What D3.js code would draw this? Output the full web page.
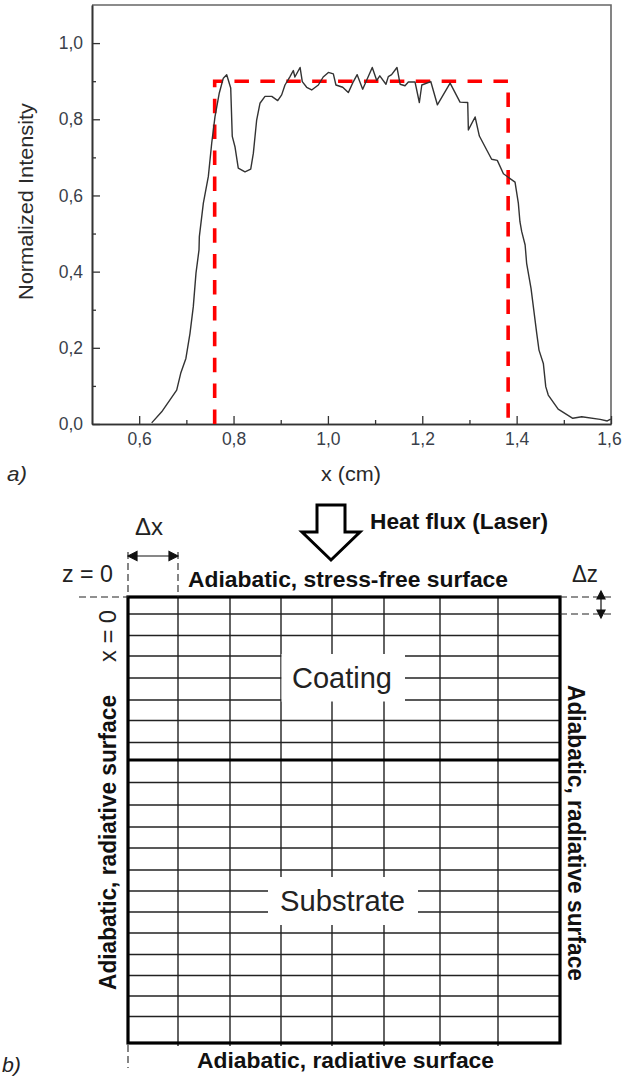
<!DOCTYPE html>
<html>
<head>
<meta charset="utf-8">
<script src="https://d3js.org/d3.v7.min.js"></script>
<style>
    html, body { margin: 0; padding: 0; background: white; }
    svg { display: block; }
    text { font-family: "Liberation Sans", Arial, sans-serif; }
</style>
</head>
<body>
<script>

// Measured intensity profile
const profileX = [0.6265, 0.6477, 0.6795, 0.688, 0.699, 0.7077, 0.7147, 0.7204, 0.7268, 0.7275, 0.736, 0.7466, 0.7537, 0.7607, 0.7698, 0.7783, 0.7855, 0.794, 0.7973, 0.803, 0.81, 0.8243, 0.8364, 0.842, 0.849, 0.856, 0.8667, 0.881, 0.8936, 0.902, 0.909, 0.9197, 0.9267, 0.93, 0.941, 0.9457, 0.955, 0.9656, 0.9797, 0.99, 1.001, 1.0115, 1.017, 1.0314, 1.0432, 1.054, 1.062, 1.0737, 1.094, 1.1035, 1.11, 1.123, 1.128, 1.135, 1.1464, 1.153, 1.1634, 1.1705, 1.1846, 1.1938, 1.199, 1.218, 1.232, 1.259, 1.28, 1.2963, 1.2977, 1.312, 1.321, 1.347, 1.359, 1.372, 1.3966, 1.4036, 1.407, 1.4108, 1.418, 1.4212, 1.4305, 1.4426, 1.4474, 1.4566, 1.4617, 1.467, 1.488, 1.519, 1.538, 1.577, 1.592, 1.5995];
const profileY = [0.003, 0.032, 0.089, 0.133, 0.172, 0.238, 0.308, 0.396, 0.457, 0.492, 0.58, 0.65, 0.737, 0.807, 0.869, 0.908, 0.917, 0.882, 0.755, 0.728, 0.672, 0.662, 0.669, 0.711, 0.798, 0.842, 0.86, 0.86, 0.849, 0.864, 0.89, 0.912, 0.928, 0.911, 0.936, 0.899, 0.884, 0.877, 0.89, 0.911, 0.923, 0.919, 0.89, 0.884, 0.87, 0.899, 0.917, 0.879, 0.936, 0.902, 0.914, 0.892, 0.912, 0.917, 0.936, 0.892, 0.888, 0.898, 0.898, 0.844, 0.89, 0.899, 0.838, 0.895, 0.845, 0.844, 0.772, 0.806, 0.756, 0.695, 0.692, 0.657, 0.635, 0.58, 0.531, 0.505, 0.47, 0.422, 0.356, 0.238, 0.194, 0.159, 0.098, 0.076, 0.039, 0.015, 0.019, 0.012, 0.008, 0.013];

// Ideal top-hat beam
const hatX = [0.76, 0.76, 1.382, 1.382];
const hatY = [0, 0.9, 0.9, 0];

// Axis ticks
const xMajor = [0.6, 0.8, 1.0, 1.2, 1.4, 1.6];
const xMinor = [0.7, 0.9, 1.1, 1.3, 1.5];
const yMajor = [0, 0.2, 0.4, 0.6, 0.8, 1.0];
const yMinor = [0.1, 0.3, 0.5, 0.7, 0.9];

// Grid of the model, offsets from the top-left corner of the sample
const gridX = [50, 102, 153, 204, 256, 312, 370];
const gridZ = [17, 38.5, 59, 81, 103, 123.5, 145.5, 185.5, 208, 230, 251, 273, 294, 315, 336, 357.5, 378.5, 399, 419.5];
const interfaceZ = 163;
const sampleWidth = 432, sampleDepth = 446;

// Create SVG
const width = 622, height = 1081;
const svg = d3.select('body')
    .append('svg')
    .attr('width', width)
    .attr('height', height);

// ---- a) intensity plot ----
const x = d3.scaleLinear().domain([0.5, 1.6]).range([92, 611]);
const y = d3.scaleLinear().domain([0, 1.1]).range([424, 5]);
const commaFormat = (d) => d3.format(".1f")(d).replace(".", ",");
const axisColor = "#333";

const plot = svg.append("g");

// Top and right of the frame are lighter
plot.append("path")
    .attr("d", `M${x(0.5)},${y(1.1)}H${x(1.6)}V${y(0)}`)
    .attr("fill", "none")
    .attr("stroke", "#666")
    .attr("stroke-width", 1.6);

function styleAxis(g) {
    g.select(".domain").attr("stroke", axisColor).attr("stroke-width", 1.6);
    g.selectAll(".tick line").attr("stroke", axisColor).attr("stroke-width", 1.3);
    g.selectAll(".tick text")
        .attr("fill", "#3a3f4a")
        .attr("font-size", 17.5)
        .attr("font-family", '"Liberation Sans", Arial, sans-serif');
}

plot.append("g")
    .attr("transform", `translate(0,${y(0)})`)
    .call(d3.axisBottom(x).tickValues(xMinor).tickSize(-4).tickSizeOuter(0).tickFormat(""))
    .call(styleAxis);
const xAxis = plot.append("g")
    .attr("transform", `translate(0,${y(0)})`)
    .call(d3.axisBottom(x).tickValues(xMajor).tickSize(-8).tickSizeOuter(0).tickPadding(9).tickFormat(commaFormat))
    .call(styleAxis);
// Last label sits right at the page edge, keep it inside
xAxis.selectAll(".tick text").filter((d) => d === 1.6).attr("dx", -2);
plot.append("g")
    .attr("transform", `translate(${x(0.5)},0)`)
    .call(d3.axisLeft(y).tickValues(yMinor).tickSize(-4).tickSizeOuter(0).tickFormat(""))
    .call(styleAxis);
plot.append("g")
    .attr("transform", `translate(${x(0.5)},0)`)
    .call(d3.axisLeft(y).tickValues(yMajor).tickSize(-8).tickSizeOuter(0).tickPadding(9).tickFormat(commaFormat))
    .call(styleAxis);

const line = d3.line().x((d) => x(d[0])).y((d) => y(d[1]));

plot.append("path")
    .attr("d", line(d3.zip(hatX, hatY)))
    .attr("fill", "none")
    .attr("stroke", "#f00")
    .attr("stroke-width", 3.6)
    .attr("stroke-dasharray", "14.5,11.4");

plot.append("path")
    .attr("d", line(d3.zip(profileX, profileY)))
    .attr("fill", "none")
    .attr("stroke", "#333")
    .attr("stroke-linejoin", "round")
    .attr("stroke-width", 1.4);

// Text helper, length forces the width seen in the picture
function label(str, px, py, size, length, opts = {}) {
    const t = svg.append("text")
        .attr("x", px)
        .attr("y", py)
        .attr("font-size", size)
        .attr("fill", opts.fill || "#111")
        .attr("font-weight", opts.bold ? "bold" : "normal")
        .attr("font-style", opts.italic ? "italic" : "normal")
        .attr("textLength", length)
        .attr("lengthAdjust", "spacingAndGlyphs")
        .text(str);
    if (opts.rotate) t.attr("transform", `rotate(${opts.rotate},${px},${py})`);
    return t;
}

label("Normalized Intensity", 33, 300, 20.5, 197, { rotate: -90, fill: "#2a2a2a" });
label("x (cm)", 321, 481, 20.5, 60, { fill: "#2a2a2a" });
label("a)", 7, 481, 21, 20, { italic: true, fill: "#2a2a2a" });

// ---- b) model geometry ----
const sx = d3.scaleLinear().domain([0, sampleWidth]).range([128, 560]);
const sz = d3.scaleLinear().domain([0, sampleDepth]).range([597, 1043]);
const sample = svg.append("g");

sample.selectAll("line.gridx")
    .data(gridX)
    .join("line")
    .attr("class", "gridx")
    .attr("x1", (d) => sx(d))
    .attr("x2", (d) => sx(d))
    .attr("y1", sz(0))
    .attr("y2", sz(sampleDepth) + 3)
    .attr("stroke", "#222")
    .attr("stroke-width", 1.4);

sample.selectAll("line.gridz")
    .data(gridZ)
    .join("line")
    .attr("class", "gridz")
    .attr("x1", sx(0))
    .attr("x2", sx(sampleWidth))
    .attr("y1", (d) => sz(d))
    .attr("y2", (d) => sz(d))
    .attr("stroke", "#222")
    .attr("stroke-width", 1.4);

// White patches behind the two layer names
sample.append("rect").attr("x", 281.5).attr("y", 654).attr("width", 123.5).attr("height", 47.5).attr("fill", "white");
sample.append("rect").attr("x", 268).attr("y", 877).attr("width", 150).attr("height", 48).attr("fill", "white");

sample.append("line")
    .attr("x1", sx(0))
    .attr("x2", sx(sampleWidth))
    .attr("y1", sz(interfaceZ))
    .attr("y2", sz(interfaceZ))
    .attr("stroke", "#000")
    .attr("stroke-width", 3);

sample.append("rect")
    .attr("x", sx(0))
    .attr("y", sz(0))
    .attr("width", sx(sampleWidth) - sx(0))
    .attr("height", sz(sampleDepth) - sz(0))
    .attr("fill", "none")
    .attr("stroke", "#000")
    .attr("stroke-width", 3.2);

// Dashed reference lines
const dashes = [
    [sx(0), 552, sx(0), sz(0)],
    [sx(gridX[0]), 552, sx(gridX[0]), sz(0)],
    [79, sz(0), sx(0), sz(0)],
    [sx(0), sz(sampleDepth) + 2, sx(0), 1068],
    [sx(sampleWidth), sz(0), 612, sz(0)],
    [sx(sampleWidth), sz(gridZ[0]), 612, sz(gridZ[0])]
];
sample.selectAll("line.dash")
    .data(dashes)
    .join("line")
    .attr("class", "dash")
    .attr("x1", (d) => d[0])
    .attr("y1", (d) => d[1])
    .attr("x2", (d) => d[2])
    .attr("y2", (d) => d[3])
    .attr("stroke", "#222")
    .attr("stroke-width", 1.1)
    .attr("stroke-dasharray", "7,4");

// Small double arrows for the cell sizes
sample.append("path")
    .attr("d", "M128,556H178M128,556l9,-4.5v9zM178,556l-9,-4.5v9z")
    .attr("stroke", "#111")
    .attr("stroke-width", 1.2)
    .attr("fill", "#111");
sample.append("path")
    .attr("d", "M601,591V618M601,591l-4,8h8zM601,618l-4,-8h8z")
    .attr("stroke", "#111")
    .attr("stroke-width", 1.2)
    .attr("fill", "#111");

// Heat flux block arrow
sample.append("path")
    .attr("d", "M317,505H345V532H360L331,560L302,532H317Z")
    .attr("fill", "white")
    .attr("stroke", "#000")
    .attr("stroke-width", 3);

label("Δx", 135, 535, 24, 28, { fill: "#222" });
label("z = 0", 62, 582, 24, 51, { fill: "#222" });
label("Δz", 572, 582, 24, 26, { fill: "#222" });
label("x = 0", 116, 662, 24, 52, { rotate: -90, fill: "#222" });
label("Heat flux (Laser)", 370, 529, 21.5, 178, { bold: true });
label("Adiabatic, stress-free surface", 188, 587, 21.5, 320, { bold: true });
label("Adiabatic, radiative surface", 116, 990, 23, 295, { bold: true, rotate: -90 });
label("Adiabatic, radiative surface", 568, 685, 23, 296, { bold: true, rotate: 90 });
label("Adiabatic, radiative surface", 197, 1068, 21.5, 297, { bold: true });
label("Coating", 292, 688, 29, 100, { fill: "#222" });
label("Substrate", 280, 911, 29, 125, { fill: "#222" });
label("b)", 2, 1072, 21, 19, { italic: true, fill: "#222" });

</script>
</body>
</html>
